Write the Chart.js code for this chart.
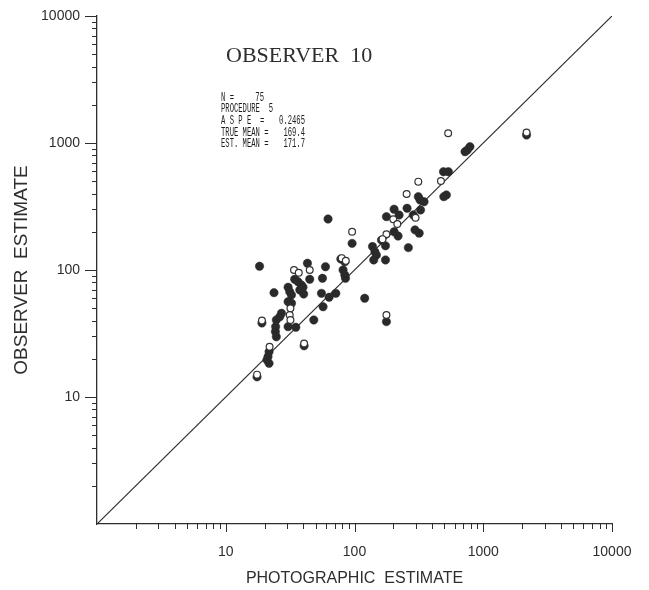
<!DOCTYPE html>
<html><head><meta charset="utf-8">
<script src="https://cdn.jsdelivr.net/npm/chart.js@4/dist/chart.umd.min.js"></script>
<style>html,body{margin:0;padding:0;background:#fff;}canvas{display:block;}</style>
</head><body>
<canvas id="c" width="649" height="590"></canvas>
<script>
// Filled symbols (photographic estimate, observer estimate)
const filledX = [17.5, 19.1, 18.3, 20.9, 21.3, 21.7, 21.7, 23.7, 24.3, 24.4, 24.7, 24.7, 26.3, 27.1, 30.5, 31.4, 32.4, 30.5, 32.4, 30.5, 35.0, 34.3, 36.4, 38.7, 39.8, 40.3, 37.6, 40.6, 43.1, 44.9, 48.3, 55.4, 56.4, 57.0, 59.5, 62.3, 63.5, 71.6, 78.3, 84.1, 81.5, 84.1, 85.1, 95.8, 120, 138, 144, 148, 141, 174, 174, 177, 162, 177, 203, 222, 203, 218, 256, 262, 286, 326, 295, 318, 313, 323, 347, 491, 536, 517, 494, 788, 752, 722, 2170];
const filledY = [14.4, 38.3, 107, 19.6, 20.8, 22.7, 18.4, 66.3, 32.7, 35.8, 40.4, 29.8, 42.9, 45.6, 73.1, 67.5, 63.6, 56.3, 54.7, 35.8, 35.4, 84.5, 80.9, 76.2, 73.1, 64.7, 69.6, 25.3, 113, 84.5, 40.4, 65.5, 86.0, 51.4, 106, 252, 61.0, 65.5, 122, 116, 100, 91.3, 86.0, 162, 59.9, 153, 139, 131, 120, 155, 120, 39.2, 172, 263, 301, 271, 200, 185, 306, 150, 271, 297, 207, 195, 378, 356, 345, 594, 594, 390, 378, 935, 881, 854, 1156];
// Open symbols
const openX = [17.5, 19.1, 21.9, 31.8, 31.4, 31.8, 33.9, 36.9, 44.9, 79.6, 85.6, 95.8, 177, 177, 165, 200, 215, 254, 313, 298, 469, 534, 2170, 40.6];
const openY = [15.0, 40.0, 24.9, 49.9, 44.2, 40.4, 100, 95.2, 100, 124, 118, 200, 44.2, 191, 175, 251, 230, 397, 496, 258, 502, 1192, 1210, 26.4];
// 1:1 line
const diagonalX = [1, 10000];
const diagonalY = [1, 10000];
// Axis ticks
const tickLabels = [10, 100, 1000, 10000];
const majorTicks = [10, 100, 1000, 10000];
const minorTicks = [2,3,4,5,6,7,8,9,20,30,40,50,60,70,80,90,200,300,400,500,600,700,800,900,2000,3000,4000,5000,6000,7000,8000,9000];
// Texts
const titleText = 'OBSERVER  10';
const xTitle = 'PHOTOGRAPHIC  ESTIMATE';
const yTitle = 'OBSERVER  ESTIMATE';
const statLabels = ['N =', 'PROCEDURE', 'A S P E  =', 'TRUE MEAN =', 'EST. MEAN ='];
const statValues = ['75', '5', '0.2465', '169.4', '171.7'];

const INK = '#2e2e2e';
Chart.defaults.font.family = '"Liberation Sans", Arial, sans-serif';
Chart.defaults.color = INK;

const toPts = (xs, ys) => xs.map((x, i) => ({x: x, y: ys[i]}));

const tickMarks = {
  id: 'tickMarks',
  afterDraw(chart) {
    const ctx = chart.ctx, xs = chart.scales.x, ys = chart.scales.y;
    ctx.save();
    ctx.strokeStyle = INK; ctx.lineWidth = 1;
    const all = majorTicks.map(v => [v, true]).concat(minorTicks.map(v => [v, false]));
    ctx.beginPath();
    all.forEach(([v, major]) => {
      const px = Math.round(xs.getPixelForValue(v)) + 0.5;
      ctx.moveTo(px, xs.top); ctx.lineTo(px, xs.top + (major ? 8 : 5));
      const py = Math.round(ys.getPixelForValue(v)) + 0.5;
      ctx.moveTo(ys.right, py); ctx.lineTo(ys.right - (major ? 12 : 5), py);
    });
    ctx.stroke();
    ctx.restore();
  }
};

const annotations = {
  id: 'annotations',
  afterDraw(chart) {
    const ctx = chart.ctx;
    ctx.save();
    ctx.fillStyle = INK;
    ctx.textBaseline = 'middle';
    ctx.textAlign = 'left';
    ctx.font = '22px "Liberation Serif", "Times New Roman", serif';
    ctx.fillText(titleText, 226, 56);
    ctx.fillStyle = '#1e1e1e';
    ctx.font = '12px "Liberation Mono", "DejaVu Sans Mono", monospace';
    const sx = 0.6;
    const draw = (t, x, y, align) => {
      ctx.save(); ctx.translate(x, y); ctx.scale(sx, 1);
      ctx.textAlign = align; ctx.fillText(t, 0, 0); ctx.restore();
    };
    const ys = [97.5, 109, 121, 132.5, 144];
    const right = [264, 273, 305, 305, 305];
    statLabels.forEach((t, i) => {
      draw(t, 221, ys[i], 'left');
      draw(statValues[i], right[i], ys[i], 'right');
    });
    ctx.restore();
  }
};

new Chart(document.getElementById('c'), {
  type: 'scatter',
  data: {
    datasets: [
      {
        type: 'line', data: toPts(diagonalX, diagonalY), borderColor: INK, borderWidth: 1.2,
        pointRadius: 0, fill: false, tension: 0, order: 3
      },
      {
        data: toPts(filledX, filledY), backgroundColor: '#2a2a2a', borderColor: '#2a2a2a',
        borderWidth: 0.5, pointRadius: 4.2, order: 2
      },
      {
        data: toPts(openX, openY), backgroundColor: '#ffffff', borderColor: '#333333',
        borderWidth: 1.2, pointRadius: 3.4, order: 1
      }
    ]
  },
  options: {
    responsive: false, animation: false, devicePixelRatio: 1,
    layout: {padding: {left: 0, right: 37, top: 16, bottom: 0}},
    plugins: {legend: {display: false}, tooltip: {enabled: false}},
    elements: {point: {hoverRadius: 4}},
    scales: {
      x: {
        type: 'logarithmic', min: 1, max: 10000, position: 'bottom',
        grid: {display: false, drawTicks: false},
        border: {display: true, color: INK, width: 1.3},
        afterBuildTicks: s => { s.ticks = tickLabels.map(v => ({value: v})); },
        afterFit: s => { s.height = 66; s.paddingLeft = 0; s.paddingRight = 20; },
        ticks: {
          autoSkip: false, maxRotation: 0, padding: 20,
          font: {size: 14}, color: INK,
          callback: v => String(v)
        },
        title: {display: true, text: xTitle, font: {size: 16}, color: INK, padding: {top: 0, bottom: 2}}
      },
      y: {
        type: 'logarithmic', min: 1, max: 10000, position: 'left',
        grid: {display: false, drawTicks: false},
        border: {display: true, color: INK, width: 1.3},
        afterBuildTicks: s => { s.ticks = tickLabels.map(v => ({value: v})); },
        afterFit: s => { s.width = 97; s.paddingTop = 9; s.paddingBottom = 0; },
        ticks: {
          autoSkip: false, padding: 17,
          font: {size: 14}, color: INK,
          callback: v => String(v)
        },
        title: {display: true, text: yTitle, font: {size: 19}, color: INK, padding: {top: 10, bottom: 0}}
      }
    }
  },
  plugins: [tickMarks, annotations]
});
</script>
</body></html>
